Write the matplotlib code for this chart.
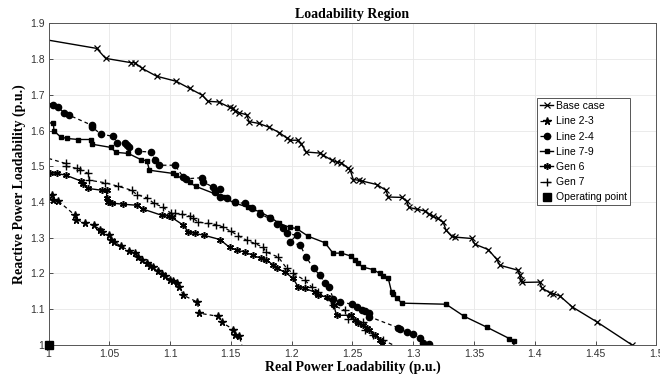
import matplotlib
matplotlib.use("Agg")
import matplotlib.pyplot as plt

# Base case
x_base = [1.0, 1.0396, 1.047, 1.068, 1.071, 1.077, 1.089, 1.105, 1.116, 1.1265, 1.131, 1.140, 1.149, 1.1515,
          1.153, 1.157, 1.163, 1.165, 1.173, 1.181, 1.190, 1.196, 1.199, 1.205, 1.208, 1.212, 1.223, 1.226,
          1.233, 1.237, 1.241, 1.2465, 1.248, 1.2507, 1.255, 1.2576, 1.270, 1.2775, 1.2795, 1.2905, 1.2946,
          1.2965, 1.3028, 1.3096, 1.313, 1.316, 1.320, 1.3247, 1.327, 1.3316, 1.334, 1.348, 1.3507, 1.3617,
          1.3686, 1.3713, 1.3863, 1.3877, 1.389, 1.3895, 1.4042, 1.4056, 1.4124, 1.415, 1.4206, 1.431, 1.4513, 1.480]
y_base = [1.853, 1.830, 1.802, 1.790, 1.790, 1.774, 1.752, 1.738, 1.718, 1.699, 1.682, 1.680, 1.665, 1.662,
          1.656, 1.650, 1.644, 1.625, 1.620, 1.610, 1.594, 1.579, 1.573, 1.573, 1.562, 1.540, 1.537, 1.531,
          1.517, 1.512, 1.510, 1.494, 1.491, 1.463, 1.461, 1.459, 1.449, 1.433, 1.414, 1.413, 1.402,
          1.385, 1.380, 1.375, 1.366, 1.360, 1.354, 1.343, 1.321, 1.304, 1.302, 1.298, 1.282, 1.267,
          1.240, 1.223, 1.209, 1.195, 1.181, 1.175, 1.176, 1.160, 1.146, 1.144, 1.137, 1.106, 1.064, 1.0]

# Line 2-3
x_l23 = [1.0, 1.0026, 1.0035, 1.008, 1.0218, 1.0226, 1.030, 1.0374, 1.0424, 1.0437, 1.050, 1.051, 1.0539,
         1.060, 1.0665, 1.0711, 1.074, 1.0766, 1.0808, 1.0835, 1.0862, 1.0903, 1.093, 1.0958, 1.0999, 1.1026,
         1.1054, 1.1076, 1.111, 1.1224, 1.124, 1.1396, 1.1424, 1.152, 1.1535, 1.157, 1.159]
y_l23 = [1.419, 1.419, 1.407, 1.403, 1.363, 1.351, 1.342, 1.335, 1.323, 1.316, 1.307, 1.293, 1.288,
         1.276, 1.263, 1.256, 1.246, 1.237, 1.229, 1.220, 1.217, 1.207, 1.198, 1.192, 1.183, 1.179,
         1.173, 1.162, 1.139, 1.120, 1.089, 1.080, 1.064, 1.043, 1.027, 1.024, 1.0]

# Line 2-4
x_l24 = [1.0, 1.0035, 1.008, 1.0127, 1.017, 1.0355, 1.0355, 1.043, 1.053, 1.0566, 1.063, 1.0648, 1.0665,
         1.0733, 1.084, 1.0876, 1.091, 1.104, 1.111, 1.113, 1.126, 1.127, 1.1355, 1.141, 1.137, 1.141, 1.1466,
         1.153, 1.1616, 1.167, 1.174, 1.182, 1.188, 1.193, 1.196, 1.204, 1.1986, 1.207, 1.212, 1.218, 1.2234,
         1.2274, 1.231, 1.234, 1.240, 1.250, 1.2535, 1.2576, 1.2603, 1.264, 1.264, 1.2877, 1.289, 1.2946,
         1.300, 1.3055, 1.3077, 1.313]
y_l24 = [1.678, 1.671, 1.665, 1.650, 1.643, 1.615, 1.611, 1.590, 1.584, 1.566, 1.564, 1.559, 1.553,
         1.542, 1.540, 1.519, 1.503, 1.503, 1.469, 1.465, 1.468, 1.456, 1.442, 1.437, 1.428, 1.414, 1.410,
         1.400, 1.396, 1.382, 1.366, 1.354, 1.338, 1.326, 1.312, 1.307, 1.288, 1.279, 1.246, 1.214, 1.195,
         1.172, 1.162, 1.130, 1.120, 1.114, 1.106, 1.099, 1.095, 1.089, 1.079, 1.048, 1.046, 1.036,
         1.030, 1.019, 1.005, 1.002]

# Line 7-9
x_l79 = [1.0, 1.004, 1.0045, 1.010, 1.015, 1.0245, 1.0347, 1.0355, 1.051, 1.0555, 1.0656, 1.0758, 1.081,
         1.083, 1.1026, 1.105, 1.116, 1.121, 1.1437, 1.153, 1.164, 1.174, 1.182, 1.190, 1.1986, 1.204, 1.2137,
         1.2274, 1.234, 1.241, 1.2485, 1.252, 1.2548, 1.2584, 1.267, 1.2726, 1.275, 1.2795, 1.2822, 1.2836,
         1.2863, 1.2905, 1.327, 1.342, 1.3604, 1.379, 1.3828, 1.3828]
y_l79 = [1.622, 1.620, 1.599, 1.582, 1.578, 1.575, 1.575, 1.562, 1.553, 1.539, 1.536, 1.519, 1.515,
         1.489, 1.480, 1.475, 1.455, 1.444, 1.414, 1.397, 1.386, 1.372, 1.358, 1.340, 1.329, 1.326, 1.304,
         1.286, 1.257, 1.257, 1.249, 1.239, 1.228, 1.218, 1.211, 1.200, 1.192, 1.186, 1.148, 1.142,
         1.1325, 1.117, 1.114, 1.080, 1.050, 1.018, 1.011, 1.0]

# Gen 6
x_g6 = [1.0, 1.001, 1.0067, 1.0144, 1.0265, 1.028, 1.0327, 1.0437, 1.0478, 1.0478, 1.049, 1.052, 1.061,
        1.0725, 1.078, 1.093, 1.0994, 1.1013, 1.111, 1.115, 1.1205, 1.128, 1.141, 1.149, 1.155, 1.1616, 1.168,
        1.175, 1.179, 1.185, 1.1877, 1.1945, 1.2013, 1.2054, 1.211, 1.219, 1.222, 1.2288, 1.2345, 1.237,
        1.2485, 1.252, 1.2548, 1.259, 1.2617, 1.264, 1.2685, 1.2726, 1.274]
y_g6 = [1.482, 1.482, 1.480, 1.475, 1.459, 1.450, 1.438, 1.433, 1.433, 1.412, 1.400, 1.397, 1.394,
        1.391, 1.380, 1.363, 1.360, 1.357, 1.335, 1.316, 1.312, 1.307, 1.295, 1.273, 1.265, 1.260, 1.251,
        1.242, 1.239, 1.223, 1.214, 1.204, 1.186, 1.162, 1.158, 1.148, 1.139, 1.134, 1.112, 1.083,
        1.083, 1.069, 1.061, 1.055, 1.048, 1.041, 1.027, 1.015, 1.002]

# Gen 7
x_g7 = [1.0, 1.014, 1.0144, 1.0237, 1.026, 1.0327, 1.0336, 1.0465, 1.0574, 1.0684, 1.0725, 1.081, 1.0868,
        1.094, 1.101, 1.104, 1.1095, 1.1164, 1.119, 1.123, 1.1314, 1.138, 1.1437, 1.150, 1.156, 1.163, 1.1698,
        1.1766, 1.179, 1.189, 1.196, 1.2013, 1.211, 1.2165, 1.222, 1.234, 1.2438, 1.2466, 1.259, 1.260,
        1.267, 1.2754, 1.2836]
y_g7 = [1.522, 1.508, 1.500, 1.494, 1.491, 1.480, 1.461, 1.454, 1.444, 1.433, 1.421, 1.412, 1.396,
        1.386, 1.368, 1.368, 1.366, 1.360, 1.354, 1.344, 1.340, 1.337, 1.330, 1.318, 1.306, 1.293, 1.284,
        1.273, 1.260, 1.246, 1.214, 1.200, 1.181, 1.162, 1.148, 1.111, 1.097, 1.074, 1.064, 1.043,
        1.029, 1.013, 1.0]

# Operating point
x_op = [1.0]
y_op = [1.0]

xticks = [1, 1.05, 1.1, 1.15, 1.2, 1.25, 1.3, 1.35, 1.4, 1.45, 1.5]
xticklabels = ["1", "1.05", "1.1", "1.15", "1.2", "1.25", "1.3", "1.35", "1.4", "1.45", "1.5"]
yticks = [1, 1.1, 1.2, 1.3, 1.4, 1.5, 1.6, 1.7, 1.8, 1.9]
yticklabels = ["1", "1.1", "1.2", "1.3", "1.4", "1.5", "1.6", "1.7", "1.8", "1.9"]

sans = ['Liberation Sans', 'DejaVu Sans']
serif = ['Liberation Serif', 'DejaVu Serif']

fig = plt.figure(figsize=(6.6, 3.77), dpi=100)
ax = fig.add_axes([0.0735, 0.085, 0.921, 0.853])

skip = slice(1, None)
ax.plot(x_base, y_base, '-', color='black', lw=1, marker='x', ms=4, mew=0.9, markevery=skip, label='Base case')
ax.plot(x_l23, y_l23, '--', color='black', lw=0.9, dashes=(3, 2.5), marker='*', ms=5.5, markevery=slice(1, -1), label='Line 2-3')
ax.plot(x_l24, y_l24, '--', color='black', lw=0.9, dashes=(3, 2.5), marker='o', ms=4.5, markevery=skip, label='Line 2-4')
ax.plot(x_l79, y_l79, '-', color='black', lw=1, marker='s', ms=3.5, markevery=slice(1, -1), label='Line 7-9')
ax.plot(x_g6, y_g6, '-', color='black', lw=1, marker=(6, 2, 0), ms=5, mew=1.1, markevery=skip, label='Gen 6')
ax.plot(x_g7, y_g7, '--', color='black', lw=0.9, dashes=(3, 2.5), marker='+', ms=6, mew=1, markevery=slice(1, -1), label='Gen 7')
ax.plot(x_op, y_op, 's', color='black', ms=6, clip_on=False, zorder=5, label='Operating point')

ax.set_xlim(1, 1.5)
ax.set_ylim(1, 1.9)
ax.set_xticks(xticks)
ax.set_xticklabels(xticklabels)
ax.set_yticks(yticks)
ax.set_yticklabels(yticklabels)
for lab in ax.get_xticklabels() + ax.get_yticklabels():
    lab.set_family(sans)
    lab.set_fontsize(7.5)
    lab.set_color('#262626')
ax.tick_params(direction='in', length=3, width=0.6, colors='#333333', pad=3)
ax.grid(True, color='#e8e8e8', lw=0.6)
for s in ax.spines.values():
    s.set_color('#555555')
    s.set_linewidth(0.7)

ax.set_title('Loadability Region', family=serif, fontweight='bold', fontsize=10, pad=4)
ax.set_xlabel('Real Power Loadability (p.u.)', family=serif, fontweight='bold', fontsize=10, labelpad=1)
ax.set_ylabel('Reactive Power Loadability (p.u.)', family=serif, fontweight='bold', fontsize=10, labelpad=3)

leg = ax.legend(loc='upper left', bbox_to_anchor=(0.803, 0.768), prop={'family': sans, 'size': 7.5},
                handlelength=1.3, handletextpad=0.25, labelspacing=0.5, borderpad=0.3, borderaxespad=0,
                fancybox=False, framealpha=1, edgecolor='#555555')
leg.get_frame().set_linewidth(0.7)

fig.savefig('out.png', dpi=100)
